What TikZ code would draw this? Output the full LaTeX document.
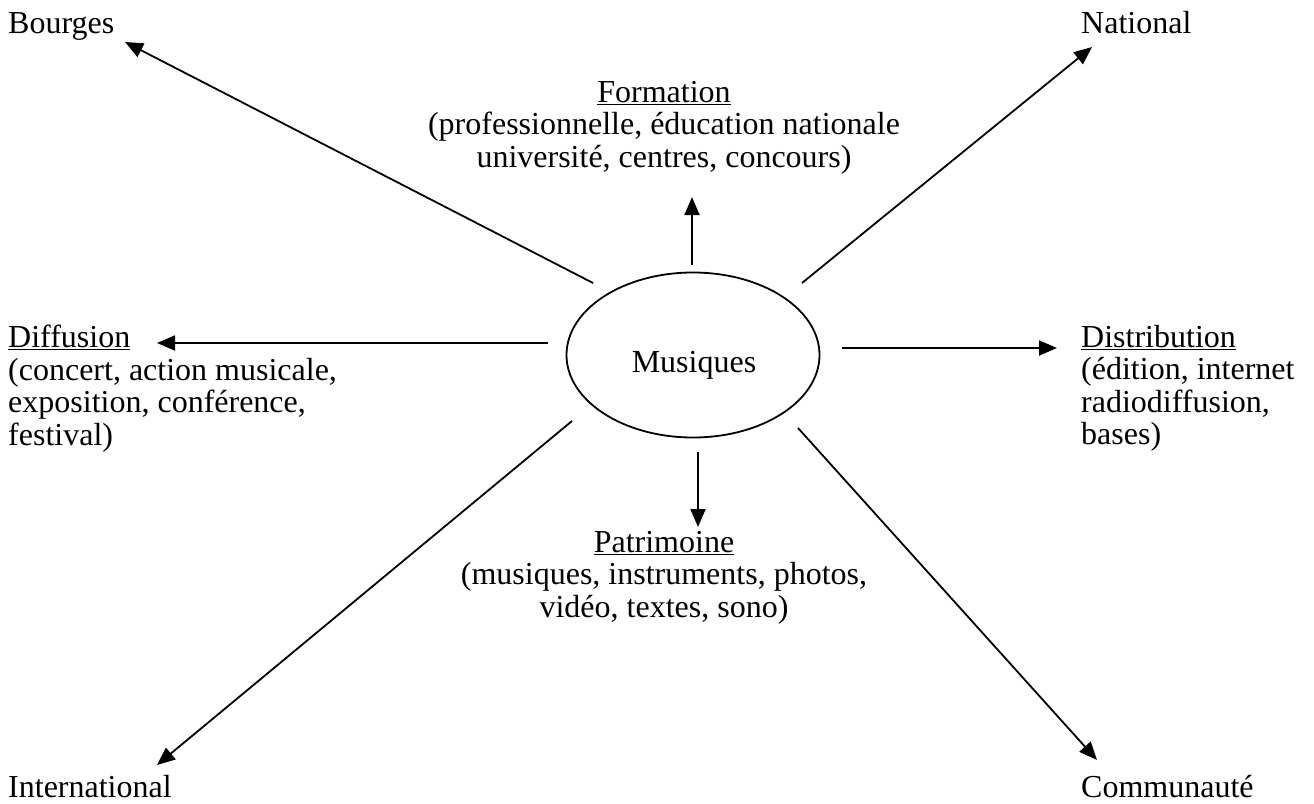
\documentclass[tikz,border=0pt]{standalone}
\usepackage{fontspec}
\setmainfont{Liberation Serif}
\usetikzlibrary{arrows.meta,positioning,calc,shapes.geometric}

\begin{document}
\begin{tikzpicture}[
  x=1pt, y=-1pt,
  >={Triangle[length=18pt,width=15pt]},
  arr/.style={->, line width=1.8pt},
  hub/.style={ellipse, draw, line width=1.8pt, minimum width=253pt, minimum height=165pt, inner sep=0pt},
  lab/.style={font=\fontsize{32}{32.5}\selectfont, inner sep=0pt},
  blockL/.style={lab, align=left, anchor=north west},
  blockC/.style={lab, align=center, anchor=north}
]
\useasboundingbox (0,0) rectangle (1314,803);

\node[hub] (mus) at (693,355) {};
\node[lab, anchor=base] (musT) at (694,372) {Musiques};

\node[lab, anchor=base west] (bourges)  at (8,33)    {Bourges};
\node[lab, anchor=base west] (national) at (1081,33) {National};
\node[lab, anchor=base west] (inter)    at (8,797)   {International};
\node[lab, anchor=base west] (commu)    at (1081,797) {Communauté};

\node[blockC] (form)  at (664,81)  {\underline{Formation}\\(professionnelle, éducation nationale\\université, centres, concours)};
\node[blockC] (patri) at (664,531) {\underline{Patrimoine}\\(musiques, instruments, photos,\\vidéo, textes, sono)};
\node[blockL] (diff)  at (8,325)   {\underline{Diffusion}\\(concert, action musicale,\\exposition, conférence,\\festival)};
\node[blockL] (distr) at (1081,325) {\underline{Distribution}\\(édition, internet\\radiodiffusion,\\bases)};

\coordinate (bourgesA) at (593,283);  \coordinate (bourgesB) at (125,42);
\coordinate (nationalA) at (802,283); \coordinate (nationalB) at (1092,47);
\coordinate (formA) at (692,265);     \coordinate (formB) at (692,197);
\coordinate (diffA) at (548,343);     \coordinate (diffB) at (157,343);
\coordinate (distrA) at (842,348);    \coordinate (distrB) at (1057,348);
\coordinate (patriA) at (698,452);    \coordinate (patriB) at (698,527);
\coordinate (interA) at (572,421);    \coordinate (interB) at (157,765);
\coordinate (commuA) at (798,428);    \coordinate (commuB) at (1097,760);

\draw[arr] (bourgesA) -- (bourgesB);
\draw[arr] (nationalA) -- (nationalB);
\draw[arr] (formA) -- (formB);
\draw[arr] (diffA) -- (diffB);
\draw[arr] (distrA) -- (distrB);
\draw[arr] (patriA) -- (patriB);
\draw[arr] (interA) -- (interB);
\draw[arr] (commuA) -- (commuB);
\end{tikzpicture}
\end{document}
